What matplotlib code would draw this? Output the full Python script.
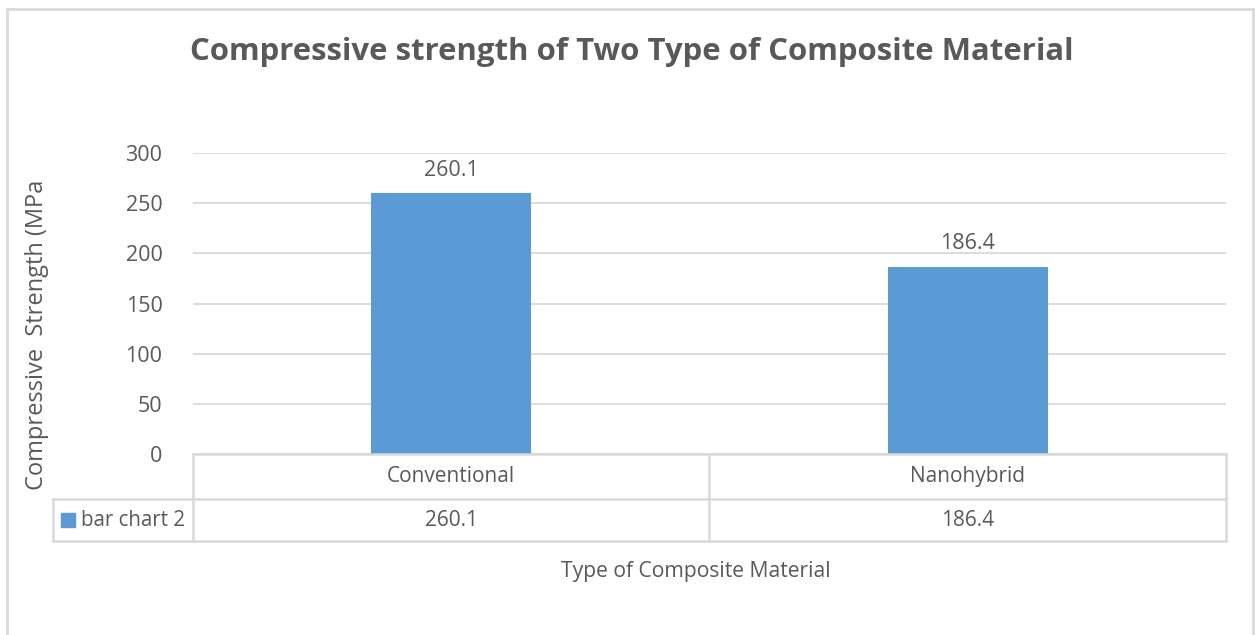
import matplotlib
matplotlib.use("Agg")
import matplotlib.pyplot as plt
from matplotlib.patches import Rectangle
from matplotlib.lines import Line2D
import matplotlib.transforms as mtransforms

categories = ["Conventional", "Nanohybrid"]
values = [260.1, 186.4]
series_name = "bar chart 2"
yticks = [0, 50, 100, 150, 200, 250, 300]

W, H = 1255, 635
TXT = "#595959"
GRID = "#D9D9D9"
BAR = "#5B9BD5"
plt.rcParams['font.family'] = ['Open Sans', 'DejaVu Sans']

fig = plt.figure(figsize=(W / 100, H / 100), dpi=100)

def fx(px):
    return px / W

def fy(py):
    return 1 - py / H

# outer frame
fig.patches.append(Rectangle((fx(7), fy(640)), fx(1253) - fx(7), fy(9) - fy(640),
                             transform=fig.transFigure, fill=False, edgecolor=GRID, lw=2))

x0, x1, ytop, ybot = 193, 1226, 153, 454
ax = fig.add_axes([fx(x0), fy(ybot), fx(x1) - fx(x0), fy(ytop) - fy(ybot)])
xs = list(range(len(categories)))
bars = ax.bar(xs, values, width=0.31, color=BAR, zorder=3)
ax.set_xlim(-0.5, len(categories) - 0.5)
ax.set_ylim(0, 300)
ax.set_yticks(yticks)
ax.set_yticklabels([str(t) for t in yticks], fontsize=15.5, color=TXT)
ax.tick_params(axis='y', length=0, pad=22)
ax.set_xticks([])
for s in ax.spines.values():
    s.set_visible(False)
ax.grid(axis='y', color=GRID, lw=1.3, zorder=0)
for b, v in zip(bars, values):
    ax.annotate(f"{v}", (b.get_x() + b.get_width() / 2, v), xytext=(0, 9),
                textcoords="offset points", ha='center', va='bottom', fontsize=15.5, color=TXT)

# data table
tf = fig.transFigure
lw = 1.8
r0, r1, r2 = 454, 499, 541
xl, xm = 53, 709
def hline(y, xa, xb):
    fig.lines.append(Line2D([fx(xa), fx(xb)], [fy(y), fy(y)], transform=tf, color=GRID, lw=lw))
def vline(x, ya, yb):
    fig.lines.append(Line2D([fx(x), fx(x)], [fy(ya), fy(yb)], transform=tf, color=GRID, lw=lw))
hline(r0, x0, x1)
hline(r1, xl, x1)
hline(r2, xl, x1)
vline(x0, r0, r2)
vline(xm, r0, r2)
vline(x1, r0, r2)
vline(xl, r1, r2)

bt = mtransforms.blended_transform_factory(ax.transData, fig.transFigure)
for i, (c, v) in enumerate(zip(categories, values)):
    fig.text(i, fy((r0 + r1) / 2), c, transform=bt, ha='center', va='center', fontsize=15, color=TXT)
    fig.text(i, fy((r1 + r2) / 2), f"{v}", transform=bt, ha='center', va='center', fontsize=15, color=TXT)

fig.patches.append(Rectangle((fx(61), fy(527)), fx(75) - fx(61), fy(513) - fy(527),
                             transform=tf, color=BAR))
fig.text(fx(81), fy((r1 + r2) / 2), series_name, ha='left', va='center', fontsize=14.8, color=TXT)

fig.text(fx(632), fy(52), "Compressive strength of Two Type of Composite Material",
         ha='center', va='center', fontsize=22.4, fontweight='bold', color=TXT)
fig.text(fx(37), fy(335), "Compressive  Strength (MPa", rotation=90, ha='center', va='center',
         fontsize=17, color=TXT)
fig.text(fx(696), fy(571), "Type of Composite Material", ha='center', va='center',
         fontsize=15.2, color=TXT)

fig.savefig("out.png", dpi=100)
